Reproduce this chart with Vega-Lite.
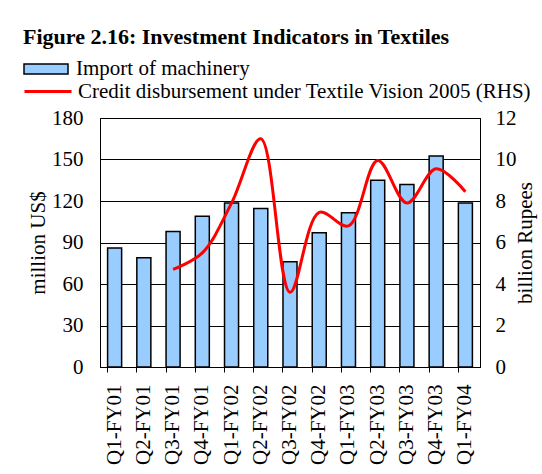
{
  "$schema": "https://vega.github.io/schema/vega-lite/v6.json",
  "width": 380,
  "height": 249,
  "autosize": "none",
  "padding": {"left": 100, "top": 118, "right": 62, "bottom": 107},
  "background": "white",
  "config": {
    "view": {"stroke": "black", "strokeWidth": 1},
    "font": "Liberation Serif, Times New Roman, DejaVu Serif, serif"
  },
  "data": {
    "values": [
      {"quarter": "Q1-FY01", "imports": 86, "credit": null},
      {"quarter": "Q2-FY01", "imports": 79, "credit": null},
      {"quarter": "Q3-FY01", "imports": 98, "credit": 4.7},
      {"quarter": "Q4-FY01", "imports": 109, "credit": 5.5},
      {"quarter": "Q1-FY02", "imports": 118.5, "credit": 7.9},
      {"quarter": "Q2-FY02", "imports": 114.5, "credit": 11.0},
      {"quarter": "Q3-FY02", "imports": 76, "credit": 3.6},
      {"quarter": "Q4-FY02", "imports": 97, "credit": 7.45},
      {"quarter": "Q1-FY03", "imports": 111.5, "credit": 6.8},
      {"quarter": "Q2-FY03", "imports": 135, "credit": 9.95},
      {"quarter": "Q3-FY03", "imports": 132, "credit": 7.9},
      {"quarter": "Q4-FY03", "imports": 152.5, "credit": 9.55},
      {"quarter": "Q1-FY04", "imports": 118.5, "credit": 8.45}
    ]
  },
  "layer": [
    {
      "mark": {"type": "bar", "stroke": "black", "strokeWidth": 1.5},
      "encoding": {
        "x": {
          "field": "quarter",
          "type": "nominal",
          "sort": null,
          "scale": {"paddingInner": 0.52, "paddingOuter": 0.26},
          "axis": {
            "title": null,
            "bandPosition": 0,
            "labelAngle": -90,
            "labelFontSize": 21,
            "labelColor": "black",
            "labelPadding": 12,
            "tickSize": 5,
            "tickColor": "black",
            "domainColor": "black"
          }
        },
        "y": {
          "field": "imports",
          "type": "quantitative",
          "scale": {"domain": [0, 180], "nice": false},
          "axis": {
            "values": [0, 30, 60, 90, 120, 150, 180],
            "title": "million US$",
            "titleFontSize": 21,
            "titleFontWeight": "normal",
            "titleColor": "black",
            "titlePadding": 3,
            "labelFontSize": 21,
            "labelColor": "black",
            "labelPadding": 17,
            "tickSize": 0,
            "ticks": false,
            "domainColor": "black",
            "grid": true,
            "gridColor": "black",
            "gridOpacity": 1,
            "gridWidth": 1
          }
        },
        "fill": {
          "datum": "Import of machinery",
          "type": "nominal",
          "scale": {"range": ["#99CCFF"]},
          "legend": {
            "title": "Figure 2.16: Investment Indicators in Textiles",
            "titleFontSize": 22,
            "titleFontWeight": "bold",
            "titleColor": "black",
            "titleLimit": 600,
            "titlePadding": -3,
            "orient": "none",
            "legendX": -77,
            "legendY": -91,
            "symbolType": "M-1,-0.23H1V0.23H-1Z",
            "symbolSize": 1936,
            "symbolStrokeColor": "black",
            "symbolStrokeWidth": 1.5,
            "symbolOpacity": 1,
            "labelFontSize": 21,
            "labelColor": "black",
            "labelOffset": 7,
            "labelLimit": 0
          }
        }
      }
    },
    {
      "transform": [{"filter": "datum.credit != null"}],
      "mark": {"type": "line", "interpolate": "catmull-rom", "strokeWidth": 3},
      "encoding": {
        "x": {"field": "quarter", "type": "nominal", "sort": null},
        "y": {
          "field": "credit",
          "type": "quantitative",
          "scale": {"domain": [0, 12], "nice": false},
          "axis": {
            "orient": "right",
            "values": [0, 2, 4, 6, 8, 10, 12],
            "title": "billion Rupees",
            "titleAngle": 270,
            "titleBaseline": "top",
            "titleFontSize": 21,
            "titleFontWeight": "normal",
            "titleColor": "black",
            "titlePadding": -2,
            "labelFontSize": 21,
            "labelColor": "black",
            "labelPadding": 15,
            "tickSize": 0,
            "ticks": false,
            "domainColor": "black",
            "grid": false
          }
        },
        "stroke": {
          "datum": "Credit disbursement under Textile Vision 2005 (RHS)",
          "type": "nominal",
          "scale": {"range": ["#FF0000"]},
          "legend": {
            "title": null,
            "orient": "none",
            "legendX": -77,
            "legendY": -51.5,
            "symbolType": "stroke",
            "symbolSize": 2209,
            "symbolStrokeWidth": 3,
            "labelFontSize": 21,
            "labelColor": "black",
            "labelOffset": 5,
            "labelLimit": 0
          }
        }
      }
    }
  ],
  "resolve": {"scale": {"y": "independent"}}
}
